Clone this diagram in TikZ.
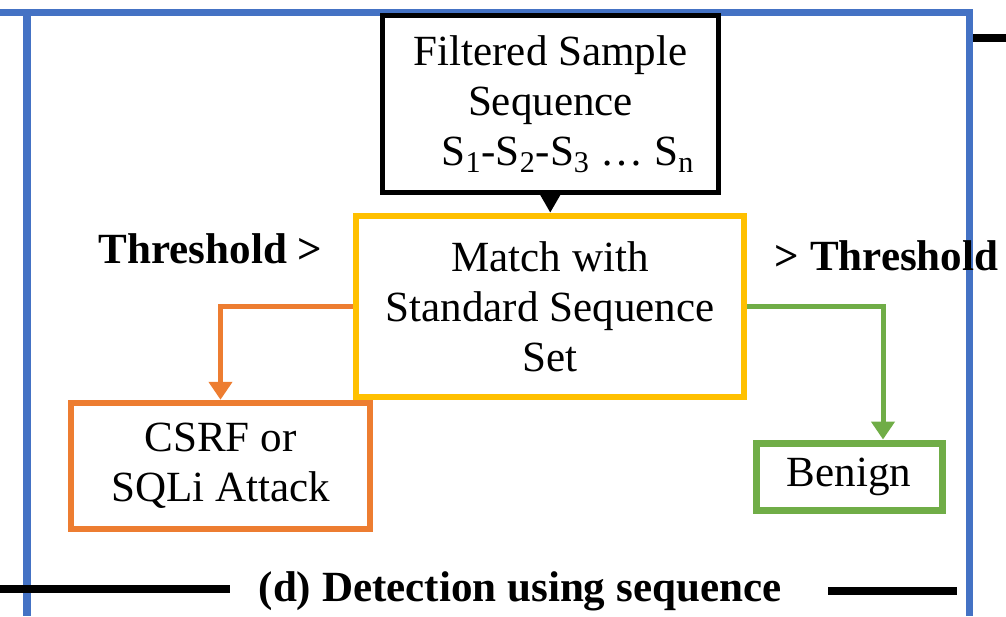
\documentclass[tikz,border=0pt]{standalone}
\usepackage{fontspec}
\setmainfont{Liberation Serif}
\usepackage{tikz}
\usetikzlibrary{positioning,arrows.meta}
\definecolor{frameline}{HTML}{4472C4}
\definecolor{matchline}{HTML}{FFC000}
\definecolor{atkline}{HTML}{ED7D31}
\definecolor{okline}{HTML}{70AD47}
\definecolor{ink}{HTML}{000000}
\newcommand{\txt}{\fontsize{24.5}{28.5}\selectfont}
\newcommand{\lblf}{\fontsize{24.5}{28.5}\selectfont\bfseries}

\begin{document}
\begin{tikzpicture}[
  text=ink, font=\txt,
  bx/.style={draw, align=center, inner sep=0pt, font=\txt},
  frm/.style={line width=1.5mm, draw=frameline},
  rl/.style={line width=1.6mm, draw=ink},
  rr/.style={-{Triangle[length=3.6mm, width=4.6mm]}, line width=1.0mm},
  arr/.style={-{Triangle[length=3.6mm, width=3.8mm]}, line width=1.0mm, draw=ink},
]
\useasboundingbox (0,0) rectangle (20.12,-12.32);
% ---------------- frame of panel (d) ----------------
\draw[frm] (0,-0.25) -- (19.39,-0.25) -- (19.39,-12.32);
\draw[frm] (0.54,-0.25) -- (0.54,-12.32);
\draw[rl] (19.46,-0.75) -- (20.12,-0.75);
\draw[rl] (0,-11.78) -- (4.6,-11.78);
\draw[rl] (16.56,-11.82) -- (19.14,-11.82);
\node[anchor=base, font=\lblf] (ttl) at (10.4,-12.02) {(d) Detection using sequence};

% ---------------- boxes ----------------
\node[bx, draw=ink, line width=1.0mm, minimum width=6.72cm, minimum height=3.54cm] (seq) at (11.01,-2.08)
  {Filtered Sample\\ Sequence\\ \hspace*{7mm}S\textsubscript{1}-S\textsubscript{2}-S\textsubscript{3} … S\textsubscript{n}};
\node[bx, draw=matchline, line width=1.3mm, minimum width=7.76cm, minimum height=3.62cm] (match) at (11.0,-6.13)
  {Match with\\ Standard Sequence\\ Set};
\node[bx, draw=atkline, line width=1.3mm, minimum width=5.98cm, minimum height=2.52cm] (attack) at (4.41,-9.32)
  {CSRF or\\ SQLi Attack};
\node[bx, draw=okline, line width=1.4mm, minimum width=3.72cm, minimum height=1.34cm] (benign) at (16.98,-9.53)
  {Benign};

% ---------------- threshold labels ----------------
\node[anchor=base, font=\lblf] (thlo) at (4.21,-5.26) {Threshold >};
\node[anchor=base, font=\lblf] (thhi) at (17.73,-5.40) {> Threshold};

% ---------------- connectors ----------------
\draw[arr] (seq) -- (match);
\draw[rr, draw=atkline] (match.west) -| (attack.north);
\draw[rr, draw=okline] (match.east) -| ([xshift=6.8mm]benign.north);
\end{tikzpicture}
\end{document}
